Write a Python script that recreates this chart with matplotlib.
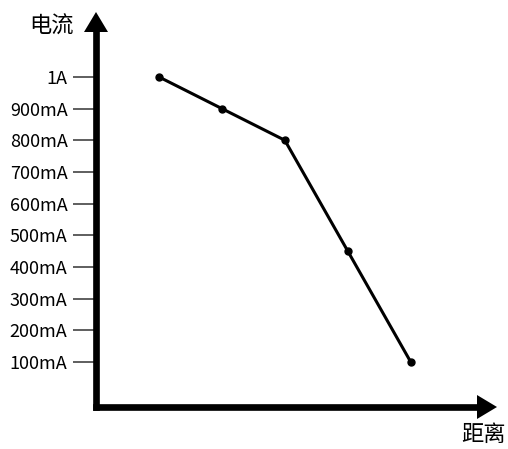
import matplotlib
matplotlib.use("Agg")
from matplotlib import pyplot as plt
from matplotlib.patches import Polygon

plt.rcParams['font.family'] = ['Noto Sans CJK SC', 'DejaVu Sans']

distance = [1, 2, 3, 4, 5]
current_ma = [1000, 900, 800, 450, 100]

tick_values = [100, 200, 300, 400, 500, 600, 700, 800, 900, 1000]
tick_labels = ['100mA', '200mA', '300mA', '400mA', '500mA',
               '600mA', '700mA', '800mA', '900mA', '1A']

W, H = 508, 449
fig = plt.figure(figsize=(W / 100, H / 100), dpi=100)
# axes box: left edge on the y axis, right/top edge at the arrow tips
ax_l, ax_b, ax_w, ax_h = 96, 42, 401, 395
ax = fig.add_axes([ax_l / W, ax_b / H, ax_w / W, ax_h / H])
ax.patch.set_alpha(0)

ax.plot(distance, current_ma, color='black', lw=2.2, marker='o', markersize=5,
        zorder=3)

ax.set_xlim(0, 6.37)
ax.set_ylim(-42, 1205)

for s in ax.spines.values():
    s.set_visible(False)

ax.set_xticks([])
ax.set_yticks(tick_values)
ax.set_yticklabels(tick_labels)
ax.tick_params(axis='y', length=16.5, width=1.1, color='#333333', pad=4,
               labelsize=13)

# axis arrows (sizes in pixels converted to axes fraction)
head_len, head_w, shaft = 20, 24, 4.8
ax.plot([0, 0], [0, 1 - head_len / ax_h], color='black', lw=shaft,
        solid_capstyle='projecting', transform=ax.transAxes, clip_on=False)
ax.plot([0, 1 - head_len / ax_w], [0, 0], color='black', lw=shaft,
        solid_capstyle='projecting', transform=ax.transAxes, clip_on=False)
ax.add_patch(Polygon([(-head_w / 2 / ax_w, 1 - head_len / ax_h),
                      (head_w / 2 / ax_w, 1 - head_len / ax_h), (0, 1)],
                     closed=True, color='black', lw=0,
                     transform=ax.transAxes, clip_on=False))
ax.add_patch(Polygon([(1 - head_len / ax_w, head_w / 2 / ax_h),
                      (1 - head_len / ax_w, -head_w / 2 / ax_h), (1, 0)],
                     closed=True, color='black', lw=0,
                     transform=ax.transAxes, clip_on=False))

fig.text(51 / W, 1 - 26.5 / H, '电流', fontsize=16, ha='center', va='center')
fig.text(483.5 / W, 1 - 434.5 / H, '距离', fontsize=16, ha='center', va='center')

fig.savefig('out.png', dpi=100)
